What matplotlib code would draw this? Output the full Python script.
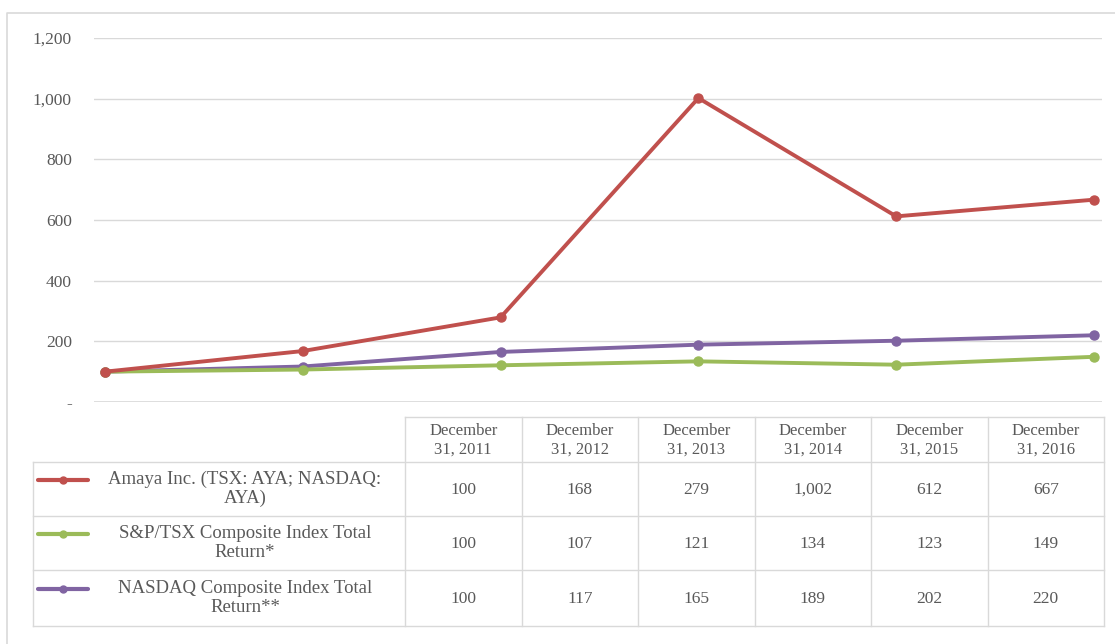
import matplotlib.pyplot as plt
import numpy as np

plt.rcParams['font.family'] = ['Liberation Serif', 'DejaVu Serif']

# data
dates = ["December\n31, 2011", "December\n31, 2012", "December\n31, 2013",
         "December\n31, 2014", "December\n31, 2015", "December\n31, 2016"]
amaya = [100, 168, 279, 1002, 612, 667]
sptsx = [100, 107, 121, 134, 123, 149]
nasdaq = [100, 117, 165, 189, 202, 220]
series_names = ["Amaya Inc. (TSX: AYA; NASDAQ:\nAYA)",
                "S&P/TSX Composite Index Total\nReturn*",
                "NASDAQ Composite Index Total\nReturn**"]
series_values = [amaya, sptsx, nasdaq]
colors = ["#c0504d", "#9bbb59", "#8064a2"]
yticks = [0, 200, 400, 600, 800, 1000, 1200]
ytick_labels = ["-", "200", "400", "600", "800", "1,000", "1,200"]

W, H = 1115, 644
fig = plt.figure(figsize=(W / 100, H / 100), dpi=100)
txt = "#595959"
grid = "#d9d9d9"

# background / frame layer in pixel coords
bg = fig.add_axes([0, 0, 1, 1])
bg.set_xlim(0, W)
bg.set_ylim(H, 0)
bg.axis("off")
bg.plot([7, 7, W], [H, 13, 13], color=grid, lw=1.2)

# line chart
ax = fig.add_axes([94 / W, 1 - 402 / H, (1102 - 94) / W, (402 - 38) / H])
x = np.arange(len(dates))
# draw in reverse so red is on top
for vals, c in list(zip(series_values, colors))[::-1]:
    ax.plot(x, vals, color=c, lw=2.8, marker="o", markersize=6.5,
            solid_capstyle="round", zorder=3)
ax.set_xlim(-11 / 197.8, 5 + 8 / 197.8)
ax.set_ylim(0, 1200)
ax.set_yticks(yticks)
ax.set_yticklabels(ytick_labels, fontsize=12.5, color=txt)
ax.tick_params(axis="y", length=0, pad=16)
ax.set_xticks([])
ax.grid(axis="y", color=grid, lw=1)
for s in ax.spines.values():
    s.set_visible(False)
ax.axhline(0, color=grid, lw=1.2)
ax.patch.set_alpha(0)

# data table
col_edges = np.linspace(405, 1104, len(dates) + 1)
row_edges = [417, 462, 516, 570, 626]
tab_left = 33
# horizontal lines
bg.plot([col_edges[0], col_edges[-1]], [row_edges[0], row_edges[0]], color=grid, lw=1)
for r in row_edges[1:]:
    bg.plot([tab_left, col_edges[-1]], [r, r], color=grid, lw=1)
# vertical lines
bg.plot([tab_left, tab_left], [row_edges[1], row_edges[-1]], color=grid, lw=1)
for c in col_edges:
    bg.plot([c, c], [row_edges[0], row_edges[-1]], color=grid, lw=1)

for j, d in enumerate(dates):
    cx = (col_edges[j] + col_edges[j + 1]) / 2
    bg.text(cx, (row_edges[0] + row_edges[1]) / 2 + 1, d, ha="center", va="center",
            fontsize=12, color=txt, linespacing=1.25)

for i, (name, vals, c) in enumerate(zip(series_names, series_values, colors)):
    cy = (row_edges[i + 1] + row_edges[i + 2]) / 2
    # legend key
    ky = cy - 9
    bg.plot([38, 88], [ky, ky], color=c, lw=3, solid_capstyle="round")
    bg.plot([63], [ky], color=c, marker="o", markersize=5)
    bg.text(245, cy, name, ha="center", va="center", fontsize=13.5,
            color=txt, linespacing=1.15)
    for j, v in enumerate(vals):
        cx = (col_edges[j] + col_edges[j + 1]) / 2
        bg.text(cx, cy + 1, f"{v:,}", ha="center", va="center",
                fontsize=12.5, color=txt)

fig.savefig("out.png", dpi=100)
